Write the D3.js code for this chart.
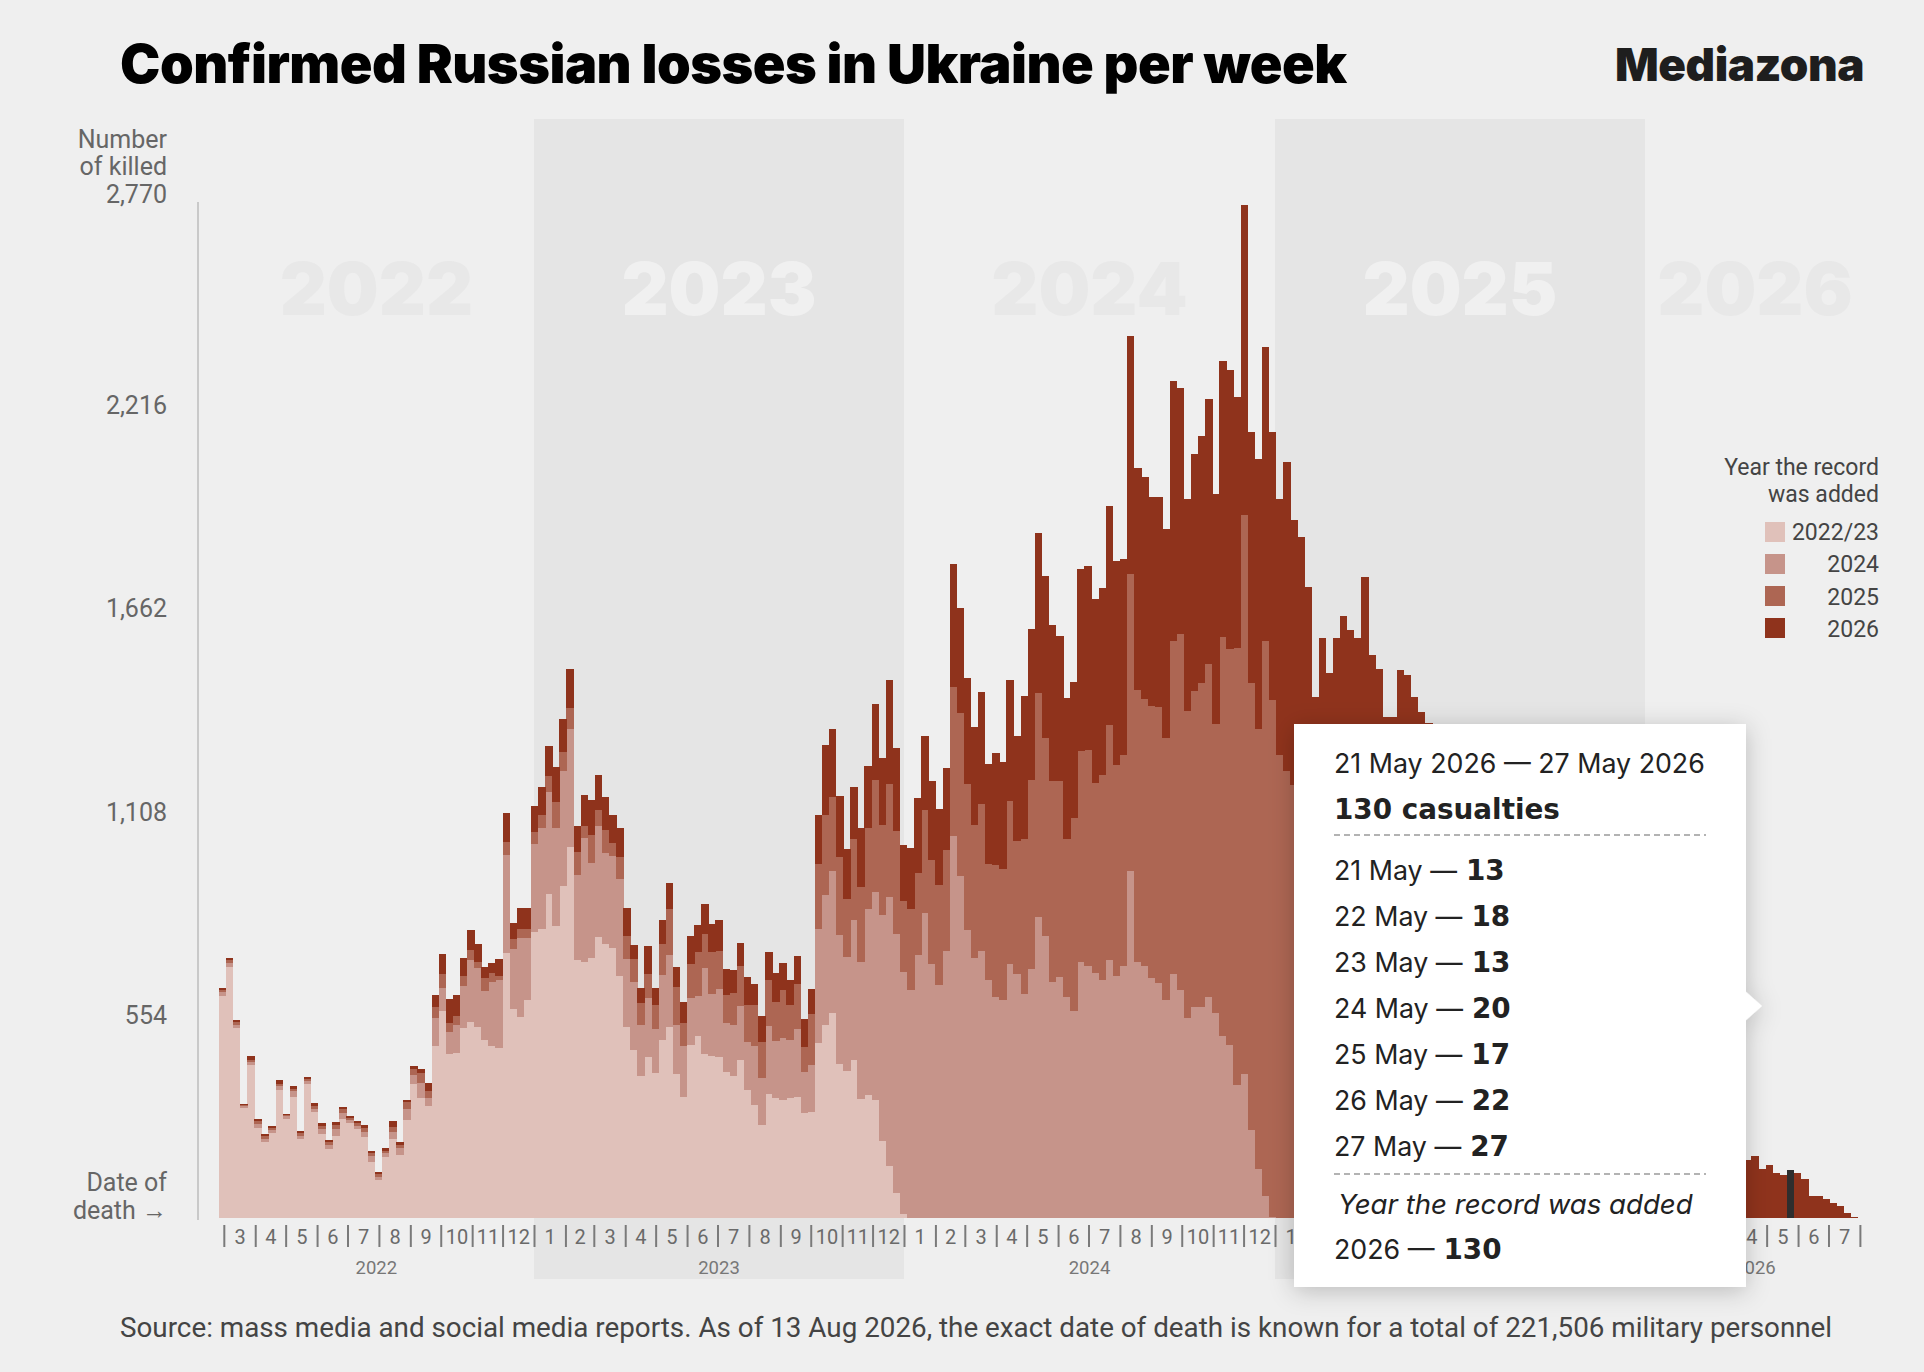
<!DOCTYPE html>
<html>
<head>
<meta charset="utf-8">
<script src="https://cdn.jsdelivr.net/npm/d3@7"></script>
<style>
  html, body { margin: 0; padding: 0; background: #efefef; }
  svg { display: block; }
</style>
</head>
<body>
<svg id="chart" width="1924" height="1372"></svg>
<script>
// weekly counts, week 0 starts 24 Feb 2022 (Thursday), split by the year the record was added
var added2223 = [
  605,684,518,301,418,246,207,233,350,271,
  330,215,364,290,229,189,224,271,258,243,
  220,154,104,167,215,173,266,364,328,305,
  469,565,446,450,518,534,520,486,469,463,
  723,571,548,593,780,788,882,797,904,1012,
  703,699,710,766,746,737,661,522,458,387,
  439,396,486,520,393,331,472,495,446,441,
  439,398,388,432,350,307,254,339,328,322,
  328,331,285,288,478,526,558,421,402,430,
  325,335,321,210,143,67,10,0,0,0,
  0,0,0,0,0,0,0,0,0,0,
  0,0,0,0,0,0,0,0,0,0,
  0,0,0,0,0,0,0,0,0,0,
  0,0,0,0,0,0,0,0,0,0,
  0,0,0,0,0,0,0,0,0,0,
  0,0,0,0,0,0,0,0,0,0,
  0,0,0,0,0,0,0,0,0,0,
  0,0,0,0,0,0,0,0,0,0,
  0,0,0,0,0,0,0,0,0,0,
  0,0,0,0,0,0,0,0,0,0,
  0,0,0,0,0,0,0,0,0,0,
  0,0,0,0,0,0,0,0,0,0,
  0,0,0,0,0,0,0,0,0,0,
  0,0
];
var added2024 = [
  10,11,9,5,8,10,9,7,9,6,
  16,9,9,8,14,9,19,14,8,9,
  14,14,9,9,19,19,32,25,40,23,
  76,62,62,76,115,170,162,133,175,186,
  266,162,215,170,240,275,279,266,316,322,
  232,338,259,302,249,249,263,184,186,139,
  161,120,177,198,132,138,127,110,235,170,
  185,133,138,147,130,162,128,184,155,170,
  158,185,113,130,310,354,388,350,310,382,
  373,507,568,616,731,708,660,622,717,832,
  692,635,727,1042,933,784,708,727,650,602,
  593,692,666,612,679,822,769,644,656,602,
  564,698,688,669,650,704,660,688,947,698,
  688,654,641,593,664,622,545,574,574,602,
  558,497,472,363,392,239,134,61,4,0,
  0,0,0,0,0,0,0,0,0,0,
  0,0,0,0,0,0,0,0,0,0,
  0,0,0,0,0,0,0,0,0,0,
  0,0,0,0,0,0,0,0,0,0,
  0,0,0,0,0,0,0,0,0,0,
  0,0,0,0,0,0,0,0,0,0,
  0,0,0,0,0,0,0,0,0,0,
  0,0,0,0,0,0,0,0,0,0,
  0,0
];
var added2025 = [
  7,8,7,3,6,8,8,6,7,3,
  7,7,6,7,9,8,10,11,6,6,
  11,9,7,8,15,8,17,16,28,19,
  29,37,23,25,28,26,17,36,23,11,
  37,28,26,26,32,37,43,71,51,57,
  63,32,76,45,64,36,61,64,62,60,
  66,64,85,124,105,62,94,119,94,115,
  105,76,87,109,102,113,98,125,107,130,
  96,122,69,138,178,220,201,214,159,220,
  205,220,306,245,308,281,195,220,224,281,
  283,273,277,407,444,398,363,402,316,360,
  358,446,363,421,516,610,541,547,535,430,
  526,574,589,516,558,639,574,574,809,742,
  727,742,752,715,908,970,838,864,884,908,
  790,1086,1080,1190,1524,1220,1199,1513,1408,1262,
  1220,1180,1130,1060,880,960,890,930,950,910,
  890,970,840,810,730,720,780,760,700,670,
  640,600,570,540,500,470,430,400,370,340,
  310,280,255,225,200,180,155,130,110,95,
  80,65,50,40,30,22,15,10,6,3,
  1,0,0,0,0,0,0,0,0,0,
  0,0,0,0,0,0,0,0,0,0,
  0,0,0,0,0,0,0,0,0,0,
  0,0
];
var added2026 = [
  6,7,6,2,9,7,6,6,9,3,
  6,7,6,8,7,7,9,7,7,7,
  8,6,6,7,16,6,7,9,10,20,
  34,55,66,58,49,55,47,28,29,46,
  78,42,57,57,72,76,83,95,90,106,
  72,85,95,94,88,78,77,75,37,42,
  75,46,64,71,53,58,76,76,80,76,
  84,71,63,61,75,57,70,76,78,73,
  66,75,76,68,134,189,186,166,134,143,
  159,170,207,182,285,226,153,168,203,201,
  216,207,224,335,287,291,268,304,272,306,
  293,329,285,390,411,436,440,425,396,386,
  371,497,501,503,509,597,558,535,650,606,
  606,570,574,570,709,671,578,646,673,723,
  625,753,761,685,847,683,736,801,731,698,
  840,724,727,660,541,621,597,651,690,692,
  691,778,695,688,636,646,714,721,720,710,
  710,700,690,690,680,680,660,640,630,620,
  620,600,595,575,560,550,535,520,510,495,
  480,455,450,430,410,398,385,370,354,337,
  319,300,290,275,260,250,240,225,215,205,
  195,185,180,172,165,157,170,134,145,124,
  118,130,124,105,61,61,53,42,34,14,
  2,1
];

var layerKeys   = ['a2223', 'a2024', 'a2025', 'a2026'];
var layerNames  = ['2022/23', '2024', '2025', '2026'];
var layerColors = ['#e0c1ba', '#c6948a', '#ad6653', '#8f331c'];
var yTicks = [554, 1108, 1662, 2216, 2770];
var shadedYears = [2023, 2025];
var watermarkYears = [2022, 2023, 2024, 2025, 2026];

// tooltip content (hovered week)
var hoverWeek = 221;
var hoverTitle = '21 May 2026 \u2014 27 May 2026';
var hoverTotal = '130 casualties';
var hoverDays = ['21 May', '22 May', '23 May', '24 May', '25 May', '26 May', '27 May'];
var hoverDayValues = [13, 18, 13, 20, 17, 22, 27];
var hoverAddedYear = '2026';
var hoverAddedValue = 130;

var svg = d3.select('#chart');
var firstWeek = new Date(Date.UTC(2022, 1, 24));
var tipLeft = 1294, tipRight = 1746;   // tooltip box edges, labels fully under it are not drawn

var table = added2026.map(function (v, i) {
  return { date: d3.utcDay.offset(firstWeek, 7 * i), a2223: added2223[i], a2024: added2024[i], a2025: added2025[i], a2026: added2026[i] };
});
var lastDate = d3.utcDay.offset(firstWeek, 7 * table.length);

var x = d3.scaleUtc()
  .domain([new Date(Date.UTC(2023, 0, 1)), new Date(Date.UTC(2025, 0, 1))])
  .range([534, 1275]);
var y = d3.scaleLinear().domain([0, 2770]).range([1218, 202]);

function yearStart(yr) { return new Date(Date.UTC(yr, 0, 1)); }
function hidden(px, halfW) { return px - halfW > tipLeft && px + halfW < tipRight; }

/* background bands */
svg.append('g').selectAll('rect').data(shadedYears).join('rect')
  .attr('x', function (d) { return x(yearStart(d)); })
  .attr('width', function (d) { return x(yearStart(d + 1)) - x(yearStart(d)); })
  .attr('y', 119).attr('height', 1160)
  .attr('fill', '#e5e5e5');

/* big year watermarks */
function yearMid(yr) {
  var a = Math.max(+yearStart(yr), +firstWeek), b = Math.min(+yearStart(yr + 1), +lastDate);
  return (x(new Date(a)) + x(new Date(b))) / 2;
}
svg.append('g').selectAll('text').data(watermarkYears).join('text')
  .attr('x', yearMid).attr('y', 315)
  .attr('text-anchor', 'middle')
  .attr('font-family', 'Inter, Roboto, sans-serif').attr('font-weight', 900).attr('font-size', 73)
  .attr('fill', function (d) { return shadedYears.indexOf(d) >= 0 ? '#f0f0f0' : '#e8e8e8'; })
  .text(function (d) { return d; });

/* stacked weekly bars */
var series = d3.stack().keys(layerKeys)(table);
svg.append('g').attr('shape-rendering', 'crispEdges')
  .selectAll('g').data(series).join('g')
  .attr('fill', function (d, i) { return layerColors[i]; })
  .selectAll('rect').data(function (d) { return d; }).join('rect')
  .attr('x', function (d) { return x(d.data.date); })
  .attr('width', function (d) { return x(d3.utcDay.offset(d.data.date, 7)) - x(d.data.date) + 0.4; })
  .attr('y', function (d) { return y(d[1]); })
  .attr('height', function (d) { return Math.max(0, y(d[0]) - y(d[1])); })
  .attr('fill', function (d, i) { return i === hoverWeek ? '#2e2e2e' : null; });

/* y axis */
svg.append('line').attr('x1', 198).attr('x2', 198).attr('y1', y(2770)).attr('y2', 1220)
  .attr('stroke', '#c9c9c9').attr('stroke-width', 2);
var gy = svg.append('g').attr('transform', 'translate(167,0)')
  .call(d3.axisLeft(y).tickValues(yTicks).tickFormat(d3.format(',')).tickSize(0).tickPadding(0));
gy.select('.domain').remove();
gy.attr('font-family', 'Roboto, sans-serif').attr('font-size', 25);
gy.selectAll('text').attr('fill', '#666')
  .attr('dy', function (d) { return d === 2770 ? '0' : '0.34em'; });

var axisLabel = svg.append('g').attr('font-family', 'Roboto, sans-serif').attr('font-size', 25)
  .attr('fill', '#666').attr('text-anchor', 'end');
axisLabel.append('text').attr('x', 167).attr('y', 148).text('Number');
axisLabel.append('text').attr('x', 167).attr('y', 175).text('of killed');
axisLabel.append('text').attr('x', 167).attr('y', 1191).text('Date of');
axisLabel.append('text').attr('x', 167).attr('y', 1219).text('death \u2192');

/* x axis: month ticks and labels */
var monthTicks = d3.utcMonth.range(new Date(Date.UTC(2022, 2, 1)), new Date(Date.UTC(2026, 7, 2)));
var monthMids = monthTicks.slice(0, -1).map(function (m) {
  return new Date((+m + +d3.utcMonth.offset(m, 1)) / 2);
}).filter(function (d) { return !hidden(x(d), 8); });
var gxTicks = svg.append('g').attr('transform', 'translate(0,1225)')
  .call(d3.axisBottom(x).tickValues(monthTicks.filter(function (d) { return !hidden(x(d), 2); }))
    .tickSize(22).tickFormat(''));
gxTicks.select('.domain').remove();
gxTicks.selectAll('line').attr('stroke', '#7a7a7a').attr('stroke-width', 2);

var gxLabels = svg.append('g').attr('transform', 'translate(0,1244)')
  .call(d3.axisBottom(x).tickValues(monthMids).tickSize(0)
    .tickFormat(function (d) { return d.getUTCMonth() + 1; }));
gxLabels.select('.domain').remove();
gxLabels.attr('font-family', 'Roboto, sans-serif').attr('font-size', 20);
gxLabels.selectAll('text').attr('y', 0).attr('dy', 0).attr('fill', '#6a6a6a');

svg.append('g').selectAll('text')
  .data(watermarkYears.filter(function (d) { return !hidden(yearMid(d), 20); })).join('text')
  .attr('x', yearMid).attr('y', 1274).attr('text-anchor', 'middle')
  .attr('font-family', 'Roboto, sans-serif').attr('font-size', 18.5).attr('fill', '#777')
  .text(function (d) { return d; });

/* helper: scale font so text spans a given width */
function fit(sel, width) {
  var w = sel.node().getComputedTextLength();
  var fs = parseFloat(sel.attr('font-size'));
  if (w > 0) sel.attr('font-size', fs * width / w);
  return sel;
}

/* title + brand */
fit(svg.append('text').attr('x', 120).attr('y', 83)
  .attr('font-family', 'Inter, Roboto, sans-serif').attr('font-weight', 900).attr('font-size', 52)
  .attr('letter-spacing', -0.5).attr('fill', '#000')
  .text('Confirmed Russian losses in Ukraine per week'), 1226);
fit(svg.append('text').attr('x', 1864).attr('y', 81).attr('text-anchor', 'end')
  .attr('font-family', 'Inter, Roboto, sans-serif').attr('font-weight', 900).attr('font-size', 46)
  .attr('letter-spacing', -0.5).attr('fill', '#1e1e1e')
  .text('Mediazona'), 249);

/* legend */
var lg = svg.append('g').attr('font-family', 'Roboto, sans-serif').attr('font-size', 23).attr('fill', '#444');
lg.append('text').attr('x', 1879).attr('y', 475).attr('text-anchor', 'end').text('Year the record');
lg.append('text').attr('x', 1879).attr('y', 502).attr('text-anchor', 'end').text('was added');
lg.selectAll('rect').data(layerNames).join('rect')
  .attr('x', 1765).attr('y', function (d, i) { return 522 + i * 32; })
  .attr('width', 20).attr('height', 20)
  .attr('fill', function (d, i) { return layerColors[i]; });
lg.selectAll('text.item').data(layerNames).join('text').attr('class', 'item')
  .attr('x', 1879).attr('y', function (d, i) { return 540 + i * 32.3; })
  .attr('text-anchor', 'end').text(function (d) { return d; });

/* source */
fit(svg.append('text').attr('x', 120).attr('y', 1337)
  .attr('font-family', 'Roboto, sans-serif').attr('font-size', 23).attr('fill', '#444')
  .text('Source: mass media and social media reports. As of 13 Aug 2026, the exact date of death is known for a total of 221,506 military personnel'), 1713);

/* tooltip */
var defs = svg.append('defs');
defs.append('filter').attr('id', 'shadow').attr('x', '-20%').attr('y', '-20%').attr('width', '140%').attr('height', '140%')
  .append('feDropShadow').attr('dx', 0).attr('dy', 4).attr('stdDeviation', 12)
  .attr('flood-color', '#000').attr('flood-opacity', 0.22);

var tip = svg.append('g');
var tipBox = tip.append('g').attr('filter', 'url(#shadow)');
tipBox.append('rect').attr('x', tipLeft).attr('y', 724).attr('width', tipRight - tipLeft).attr('height', 563).attr('fill', '#fff');
tipBox.append('path').attr('d', 'M1745,991 L1762,1006 L1745,1021 Z').attr('fill', '#fff');

var regular = 'Inter, "Open Sans", sans-serif';
var heavy = '"DejaVu Sans", Inter, sans-serif';
var head = fit(tip.append('text').attr('x', 1334).attr('y', 773)
  .attr('font-family', regular).attr('font-size', 27).attr('fill', '#222').text(hoverTitle), 371);
var rowSize = parseFloat(head.attr('font-size'));
var big = fit(tip.append('text').attr('x', 1334).attr('y', 819)
  .attr('font-family', heavy).attr('font-weight', 'bold').attr('font-size', 28).attr('fill', '#222')
  .text(hoverTotal), 226);
var bigSize = parseFloat(big.attr('font-size'));

tip.append('line').attr('x1', 1334).attr('x2', 1706).attr('y1', 835).attr('y2', 835)
  .attr('stroke', '#9a9a9a').attr('stroke-width', 1.5).attr('stroke-dasharray', '6,4');
tip.append('line').attr('x1', 1334).attr('x2', 1706).attr('y1', 1174).attr('y2', 1174)
  .attr('stroke', '#9a9a9a').attr('stroke-width', 1.5).attr('stroke-dasharray', '6,4');

var rows = tip.selectAll('text.day').data(hoverDays).join('text').attr('class', 'day')
  .attr('x', 1334).attr('y', function (d, i) { return 880 + i * 46; })
  .attr('font-family', regular).attr('font-size', rowSize).attr('fill', '#222');
rows.append('tspan').text(function (d) { return d + ' \u2014'; });
rows.append('tspan').attr('dx', 9).attr('font-family', heavy).attr('font-weight', 'bold').attr('font-size', bigSize)
  .text(function (d, i) { return hoverDayValues[i]; });

fit(tip.append('text').attr('x', 1338).attr('y', 1214)
  .attr('font-family', regular).attr('font-style', 'italic').attr('font-size', 27).attr('fill', '#222')
  .text('Year the record was added'), 355);
var added = tip.append('text').attr('x', 1334).attr('y', 1259)
  .attr('font-family', regular).attr('font-size', rowSize).attr('fill', '#222');
added.append('tspan').text(hoverAddedYear + ' \u2014');
added.append('tspan').attr('dx', 9).attr('font-family', heavy).attr('font-weight', 'bold').attr('font-size', bigSize)
  .text(hoverAddedValue);
</script>
</body>
</html>
